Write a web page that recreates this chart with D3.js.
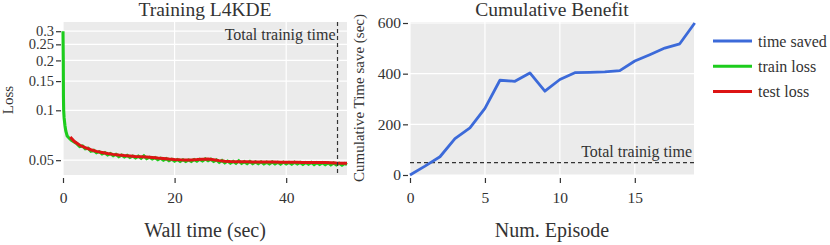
<!DOCTYPE html>
<html>
<head>
<meta charset="utf-8">
<script src="https://cdn.jsdelivr.net/npm/d3@7"></script>
<style>
  body { margin: 0; background: #fff; }
  text { font-family: "Liberation Serif", "Times New Roman", serif; fill: #333; }
</style>
</head>
<body>
<div id="wrapper"></div>
<script>
// left panel: training loss (wall time in sec)
const trainTime = [0, 0.05, 0.08, 0.12, 0.2, 0.35, 0.5, 0.75, 1, 1.5, 2,
  2.5, 3, 3.5, 4, 4.5, 5, 5.5, 6, 6.5, 7,
  7.5, 8, 8.5, 9, 9.5, 10, 10.5, 11, 11.5, 12,
  12.5, 13, 13.5, 14, 14.5, 15, 15.5, 16, 16.5, 17,
  17.5, 18, 18.5, 19, 19.5, 20, 20.5, 21, 21.5, 22,
  22.5, 23, 23.5, 24, 24.5, 25, 25.5, 26, 26.5, 27,
  27.5, 28, 28.5, 29, 29.5, 30, 30.5, 31, 31.5, 32,
  32.5, 33, 33.5, 34, 34.5, 35, 35.5, 36, 36.5, 37,
  37.5, 38, 38.5, 39, 39.5, 40, 40.5, 41, 41.5, 42,
  42.5, 43, 43.5, 44, 44.5, 45, 45.5, 46, 46.5, 47,
  47.5, 48, 48.5, 49, 49.5, 50, 50.5, 50.9];
const trainLoss = [0.30, 0.20, 0.12, 0.10, 0.09, 0.081, 0.075, 0.070, 0.0685, 0.066, 0.0645,
  0.0628, 0.0605, 0.0610, 0.0586, 0.0590, 0.0567, 0.0574, 0.0555, 0.0563, 0.0545,
  0.0555, 0.0538, 0.0548, 0.0532, 0.0543, 0.0526, 0.0537, 0.0523, 0.0534, 0.0519,
  0.0530, 0.0516, 0.0529, 0.0514, 0.0531, 0.0511, 0.0521, 0.0508, 0.0518, 0.0504,
  0.0514, 0.0500, 0.0511, 0.0497, 0.0507, 0.0494, 0.0505, 0.0492, 0.0503, 0.0491,
  0.0502, 0.0492, 0.0505, 0.0493, 0.0506, 0.0495, 0.0509, 0.0496, 0.0507, 0.0491,
  0.0502, 0.0486, 0.0498, 0.0482, 0.0494, 0.0480, 0.0492, 0.0479, 0.0495, 0.0478,
  0.0490, 0.0477, 0.0491, 0.0477, 0.0488, 0.0476, 0.0489, 0.0475, 0.0487, 0.0475,
  0.0488, 0.0475, 0.0486, 0.0474, 0.0487, 0.0474, 0.0485, 0.0473, 0.0486, 0.0474,
  0.0485, 0.0472, 0.0484, 0.0473, 0.0485, 0.0471, 0.0483, 0.0472, 0.0483, 0.0470,
  0.0482, 0.0469, 0.0481, 0.0468, 0.0479, 0.0467, 0.0478, 0.0470];
const testTime = [1.3, 2, 3, 4, 5, 6, 7, 8, 9, 10, 11, 12, 13, 14, 15, 16, 17, 18, 19, 20, 21, 22, 23, 24, 25,
  26, 27, 28, 29, 30, 31, 32, 33, 34, 35, 36, 37, 38, 39, 40, 41, 42, 43, 44, 45, 46, 47, 48, 49, 50, 50.9];
const testLoss = [0.0690, 0.0650, 0.0615, 0.0595, 0.0578, 0.0565, 0.0556, 0.0548, 0.0542, 0.0537, 0.0533, 0.0530,
  0.0527, 0.0525, 0.0522, 0.0519, 0.0515, 0.0512, 0.0508, 0.0505, 0.0503, 0.0502, 0.0502, 0.0504, 0.0507,
  0.0508, 0.0503, 0.0497, 0.0493, 0.0491, 0.0490, 0.0489, 0.0489, 0.0488, 0.0488, 0.0487, 0.0487, 0.0487,
  0.0486, 0.0486, 0.0486, 0.0486, 0.0485, 0.0485, 0.0485, 0.0485, 0.0484, 0.0483, 0.0481, 0.0480, 0.0479];
const lossTicks = [0.05, 0.1, 0.15, 0.2, 0.25, 0.3];
const wallTicks = [0, 20, 40];
const totalTrainTime = 49.2;

// right panel: cumulative benefit
const episodes = [0, 1, 2, 3, 4, 5, 6, 7, 8, 9, 10, 11, 12, 13, 14, 15, 16, 17, 18, 19];
const timeSaved = [0, 35, 72, 144, 186, 263, 374, 370, 403, 331, 377, 404, 405, 407, 412, 450, 475, 501, 518, 600];
const episodeTicks = [0, 5, 10, 15];
const savedTicks = [0, 200, 400, 600];

const legendLabels = ["time saved", "train loss", "test loss"];
const colors = {saved: "#3c6ad9", train: "#1ccc1c", test: "#dd1414"};

const svg = d3.select("#wrapper").append("svg")
  .attr("width", 830).attr("height", 245);

function panel(box) {
  const g = svg.append("g");
  g.append("rect")
    .attr("x", box.left).attr("y", box.top)
    .attr("width", box.right - box.left).attr("height", box.bottom - box.top)
    .attr("fill", "#ebebeb");
  return g;
}

// ---------- left ----------
const L = {left: 63, right: 347, top: 22, bottom: 175};
const gL = panel(L);
const xL = d3.scaleLinear().domain([0, 50.9]).range([L.left, L.right]);
const yL = d3.scaleLog().domain([0.0407, 0.341]).range([L.bottom, L.top]);

gL.selectAll(".hg").data(lossTicks).join("line")
  .attr("x1", L.left).attr("x2", L.right)
  .attr("y1", d => yL(d)).attr("y2", d => yL(d))
  .attr("stroke", "#fff").attr("stroke-width", 1.2);
gL.selectAll(".vg").data(wallTicks).join("line")
  .attr("x1", d => xL(d)).attr("x2", d => xL(d))
  .attr("y1", L.top).attr("y2", L.bottom)
  .attr("stroke", "#fff").attr("stroke-width", 1.2);

const yAxisL = svg.append("g")
  .attr("transform", `translate(${L.left - 2},0)`)
  .call(d3.axisLeft(yL).tickValues(lossTicks).tickFormat(d3.format("")).tickSize(5).tickPadding(2));
const xAxisL = svg.append("g")
  .attr("transform", `translate(0,${L.bottom + 3})`)
  .call(d3.axisBottom(xL).tickValues(wallTicks).tickSize(5).tickPadding(9));

const lineL = (xs, ys) => d3.line().x((d, i) => xL(xs[i])).y(d => yL(d))(ys);
gL.append("path").attr("d", lineL(trainTime, trainLoss))
  .attr("fill", "none").attr("stroke", colors.train).attr("stroke-width", 3.1);
gL.append("path").attr("d", lineL(testTime, testLoss))
  .attr("fill", "none").attr("stroke", colors.test).attr("stroke-width", 3);

gL.append("line")
  .attr("x1", xL(totalTrainTime)).attr("x2", xL(totalTrainTime))
  .attr("y1", L.top).attr("y2", L.bottom)
  .attr("stroke", "#333").attr("stroke-width", 1.2).attr("stroke-dasharray", "4,3");
gL.append("text")
  .attr("x", xL(totalTrainTime) - 2).attr("y", 40)
  .attr("text-anchor", "end").attr("font-size", 16)
  .text("Total trainig time");

// ---------- right ----------
const R = {left: 410, right: 694, top: 22, bottom: 175};
const gR = panel(R);
const xR = d3.scaleLinear().domain([0, 18.95]).range([R.left, R.right]);
const yR = d3.scaleLinear().domain([0, 604]).range([R.bottom, R.top]);

gR.selectAll(".hg").data(savedTicks).join("line")
  .attr("x1", R.left).attr("x2", R.right)
  .attr("y1", d => yR(d)).attr("y2", d => yR(d))
  .attr("stroke", "#fff").attr("stroke-width", 1.2);
gR.selectAll(".vg").data(episodeTicks).join("line")
  .attr("x1", d => xR(d)).attr("x2", d => xR(d))
  .attr("y1", R.top).attr("y2", R.bottom)
  .attr("stroke", "#fff").attr("stroke-width", 1.2);

const yAxisR = svg.append("g")
  .attr("transform", `translate(${R.left - 2},0)`)
  .call(d3.axisLeft(yR).tickValues(savedTicks).tickSize(5).tickPadding(2));
const xAxisR = svg.append("g")
  .attr("transform", `translate(0,${R.bottom + 3})`)
  .call(d3.axisBottom(xR).tickValues(episodeTicks).tickSize(5).tickPadding(9));

gR.append("line")
  .attr("x1", R.left).attr("x2", R.right)
  .attr("y1", yR(totalTrainTime)).attr("y2", yR(totalTrainTime))
  .attr("stroke", "#333").attr("stroke-width", 1.2).attr("stroke-dasharray", "4,3");
gR.append("text")
  .attr("x", R.right - 2).attr("y", yR(totalTrainTime) - 6)
  .attr("text-anchor", "end").attr("font-size", 16)
  .text("Total trainig time");

gR.append("path")
  .attr("d", d3.line().x((d, i) => xR(episodes[i])).y(d => yR(d))(timeSaved))
  .attr("fill", "none").attr("stroke", colors.saved).attr("stroke-width", 2.8)
  .attr("stroke-linejoin", "round");

// axis styling
svg.selectAll(".domain").remove();
svg.selectAll(".tick line").attr("stroke", "#333").attr("stroke-width", 1.2);
svg.selectAll(".tick text").attr("font-size", 15.5).attr("fill", "#333")
  .style("font-family", "'Liberation Serif', serif");
// the two top loss labels sit very close together
yAxisL.selectAll(".tick text").attr("font-size", 14.5);

// titles and axis labels
svg.append("text").attr("x", (L.left + L.right) / 2).attr("y", 16)
  .attr("text-anchor", "middle").attr("font-size", 19.5).text("Training L4KDE");
svg.append("text").attr("x", (R.left + R.right) / 2).attr("y", 16)
  .attr("text-anchor", "middle").attr("font-size", 19.5).text("Cumulative Benefit");

svg.append("text")
  .attr("transform", `translate(13,100) rotate(-90)`)
  .attr("text-anchor", "middle").attr("font-size", 15).text("Loss");
svg.append("text")
  .attr("transform", `translate(364,98) rotate(-90)`)
  .attr("text-anchor", "middle").attr("font-size", 15).text("Cumulative Time save (sec)");

svg.append("text")
  .attr("x", (L.left + L.right) / 2).attr("y", 237)
  .attr("text-anchor", "middle").attr("font-size", 20).text("Wall time (sec)");
svg.append("text")
  .attr("x", (R.left + R.right) / 2).attr("y", 237)
  .attr("text-anchor", "middle").attr("font-size", 20).text("Num. Episode");

// legend
const legendColors = [colors.saved, colors.train, colors.test];
const legend = svg.append("g").attr("transform", "translate(713,41)");
const items = legend.selectAll("g").data(legendLabels).join("g")
  .attr("transform", (d, i) => `translate(0,${i * 25.3})`);
items.append("line").attr("x1", 0).attr("x2", 39).attr("y1", 0).attr("y2", 0)
  .attr("stroke", (d, i) => legendColors[i]).attr("stroke-width", 3);
items.append("text").attr("x", 45).attr("y", 5.5).attr("font-size", 16).text(d => d);
</script>
</body>
</html>
